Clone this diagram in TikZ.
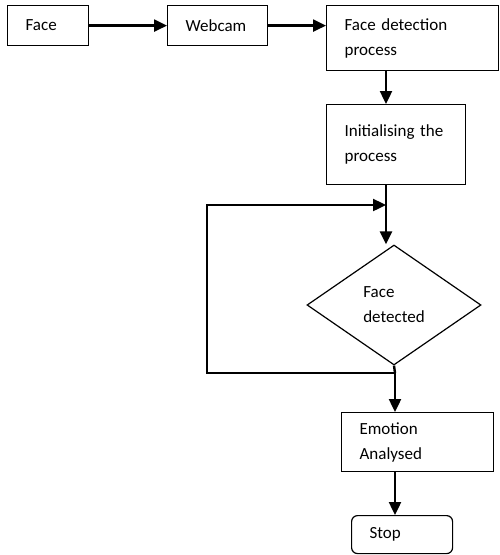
\documentclass[tikz,border=0pt]{standalone}
\usepackage{fontspec}
\setmainfont{Carlito}
\usetikzlibrary{arrows.meta,shapes.geometric}
\begin{document}
\begin{tikzpicture}[x=1pt,y=-1pt,
  box/.style={draw, line width=1.2pt, align=left, inner xsep=18pt, inner ysep=0pt,
    font=\fontsize{17}{25}\selectfont, anchor=north west},
  arr/.style={line width=2.4pt, -{Triangle[length=13pt,width=12pt]}},
  ln/.style={line width=2.4pt}]
\useasboundingbox (0,0) rectangle (500,555);
\node[box, text width=45pt, minimum height=40pt] (face) at (7,5) {Face};
\node[box, text width=64pt, minimum height=40pt] (web) at (167,5) {Webcam};
\node[box, text width=136pt, minimum height=65pt] (fd) at (326,5) {Face detection\\process};
\node[box, text width=103pt, minimum height=80pt] (init) at (326,104) {Initialising the\\process};
\node[draw, line width=1.2pt, diamond, minimum width=174pt, minimum height=120pt, inner sep=0pt,
  align=left, font=\fontsize{17}{25}\selectfont] (dia) at (394,305) {Face\\detected};
\node[box, text width=116pt, minimum height=59pt] (emo) at (341,412) {Emotion\\Analysed};
\node[box, text width=65pt, minimum height=38pt, rounded corners=6pt] (stop) at (351,515) {Stop};
\coordinate (j1) at (386,205);
\coordinate (j2) at (395,373);
\coordinate (l1) at (207,205);
\coordinate (l2) at (207,373);
\draw[arr] (face.east) -- (web.west);
\draw[arr] (web.west |- face.east) ++(100,0) -- (fd.west |- face.east);
\draw[arr] (fd.south -| j1) -- (init.north -| j1);
\draw[arr] (init.south -| j1) -- (j1) -- (j1 |- dia.north);
\draw[ln] (dia.south) -- (j2);
\draw[arr] (j2) -- (l2) -- (l1) -- (j1);
\draw[arr] (j2) -- (emo.north -| j2);
\draw[arr] (emo.south -| j2) -- (stop.north -| j2);
\end{tikzpicture}
\end{document}
